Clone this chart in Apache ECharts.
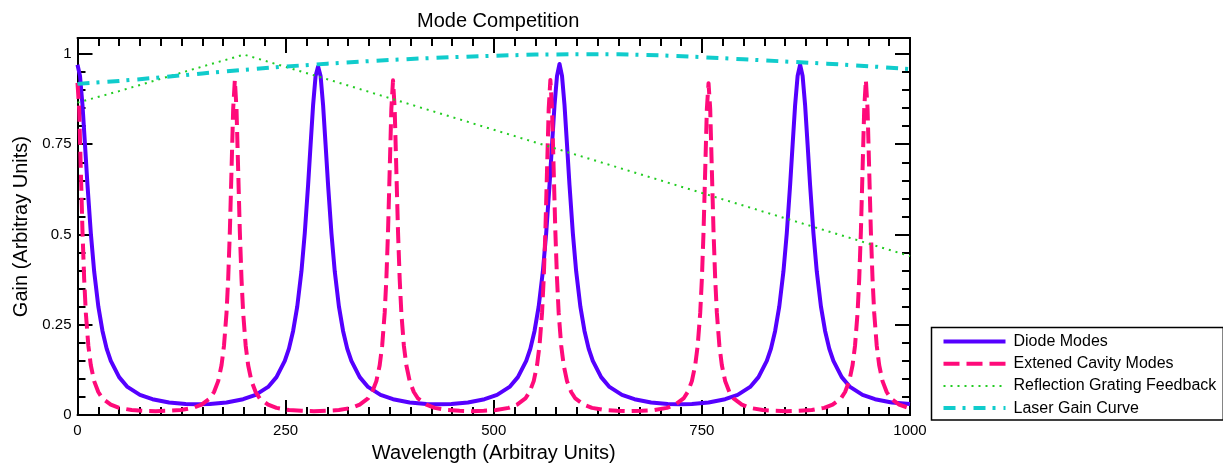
<!DOCTYPE html>
<html>
<head>
<meta charset="utf-8">
<script src="https://cdn.jsdelivr.net/npm/echarts@6/dist/echarts.min.js"></script>
<style>
  html, body { margin: 0; padding: 0; background: #fff; }
  #chart { width: 1223px; height: 468px; }
</style>
</head>
<body>
<div id="chart"></div>
<script>
// Axis ticks
const xTicks = [0, 250, 500, 750, 1000];
const yTicks = [0, 0.25, 0.5, 0.75, 1];
const yMinorTicks = [0.05, 0.1, 0.15, 0.2, 0.3, 0.35, 0.4, 0.45, 0.55, 0.6, 0.65, 0.7, 0.8, 0.85, 0.9, 0.95];

// [wavelength, gain] samples for each curve
const diodeModes = [
  [0,0.970],[3,0.939],[6,0.858],[9,0.749],[12,0.637],[16,0.504],[20,0.398],[25,0.301],[30,0.233],[35,0.184],[40,0.150],[50,0.105],[60,0.078],[75,0.056],[90,0.044],[110,0.035],[130,0.031],[144,0.030],
  [159,0.031],[179,0.035],[199,0.044],[214,0.056],[229,0.078],[239,0.105],[249,0.150],[254,0.184],[259,0.233],[264,0.301],[269,0.398],[273,0.504],[277,0.637],[280,0.749],[283,0.858],[286,0.939],[289,0.965],[292,0.939],[295,0.858],[298,0.749],[301,0.637],[305,0.504],[309,0.398],[314,0.301],[319,0.233],[324,0.184],[329,0.150],[339,0.105],[349,0.078],[364,0.056],[379,0.044],[399,0.035],[419,0.031],[434,0.030],
  [449,0.031],[469,0.035],[489,0.044],[504,0.056],[519,0.078],[529,0.105],[539,0.150],[544,0.184],[549,0.233],[554,0.301],[559,0.398],[563,0.504],[567,0.637],[570,0.749],[573,0.858],[576,0.939],[579,0.972],[582,0.939],[585,0.858],[588,0.749],[591,0.637],[595,0.504],[599,0.398],[604,0.301],[609,0.233],[614,0.184],[619,0.150],[629,0.105],[639,0.078],[654,0.056],[669,0.044],[689,0.035],[709,0.031],[724,0.030],
  [738,0.031],[758,0.035],[778,0.044],[793,0.056],[808,0.078],[818,0.105],[828,0.150],[833,0.184],[838,0.233],[843,0.301],[848,0.398],[852,0.504],[856,0.637],[859,0.749],[862,0.858],[865,0.939],[868,0.970],[871,0.939],[874,0.858],[877,0.749],[880,0.637],[884,0.504],[888,0.398],[893,0.301],[898,0.233],[903,0.184],[908,0.150],[918,0.105],[928,0.078],[943,0.056],[958,0.044],[978,0.035],[1000,0.031]
];

const cavityModes = [
  [0,0.920],[2,0.848],[4,0.678],[6,0.508],[8,0.377],[10,0.283],[13,0.193],[16,0.138],[20,0.094],[25,0.064],[30,0.046],[40,0.029],[50,0.020],[65,0.014],[80,0.012],[94,0.011],
  [109,0.012],[124,0.014],[139,0.020],[149,0.029],[159,0.046],[164,0.064],[169,0.094],[173,0.138],[176,0.193],[179,0.283],[181,0.377],[183,0.508],[185,0.678],[187,0.848],[189,0.928],[191,0.848],[193,0.678],[195,0.508],[197,0.377],[199,0.283],[202,0.193],[205,0.138],[209,0.094],[214,0.064],[219,0.046],[229,0.029],[239,0.020],[254,0.014],[269,0.012],[284,0.011],
  [299,0.012],[314,0.014],[329,0.020],[339,0.029],[349,0.046],[354,0.064],[359,0.094],[363,0.138],[366,0.193],[369,0.283],[371,0.377],[373,0.508],[375,0.678],[377,0.848],[379,0.927],[381,0.848],[383,0.678],[385,0.508],[387,0.377],[389,0.283],[392,0.193],[395,0.138],[399,0.094],[404,0.064],[409,0.046],[419,0.029],[429,0.020],[444,0.014],[459,0.012],[473,0.011],
  [488,0.012],[503,0.014],[518,0.020],[528,0.029],[538,0.046],[543,0.064],[548,0.094],[552,0.138],[555,0.193],[558,0.283],[560,0.377],[562,0.508],[564,0.678],[566,0.848],[568,0.928],[570,0.848],[572,0.678],[574,0.508],[576,0.377],[578,0.283],[581,0.193],[584,0.138],[588,0.094],[593,0.064],[598,0.046],[608,0.029],[618,0.020],[633,0.014],[648,0.012],[663,0.011],
  [678,0.012],[693,0.014],[708,0.020],[718,0.029],[728,0.046],[733,0.064],[738,0.094],[742,0.138],[745,0.193],[748,0.283],[750,0.377],[752,0.508],[754,0.678],[756,0.848],[758,0.919],[760,0.848],[762,0.678],[764,0.508],[766,0.377],[768,0.283],[771,0.193],[774,0.138],[778,0.094],[783,0.064],[788,0.046],[798,0.029],[808,0.020],[823,0.014],[838,0.012],[852,0.011],
  [867,0.012],[882,0.014],[897,0.020],[907,0.029],[917,0.046],[922,0.064],[927,0.094],[931,0.138],[934,0.193],[937,0.283],[939,0.377],[941,0.508],[943,0.678],[945,0.848],[947,0.928],[949,0.848],[951,0.678],[953,0.508],[955,0.377],[957,0.283],[960,0.193],[963,0.138],[967,0.094],[972,0.064],[977,0.046],[987,0.029],[997,0.021],[1000,0.019]
];

const gratingFeedback = [
  [0,0.865],[50,0.897],[100,0.931],[150,0.965],[200,0.998],[300,0.930],[400,0.860],[500,0.790],
  [600,0.720],[700,0.650],[800,0.580],[900,0.510],[1000,0.440]
];

const laserGain = [
  [0,0.917],[50,0.925],[100,0.935],[150,0.946],[200,0.956],[250,0.965],[300,0.973],[350,0.980],
  [400,0.986],[450,0.991],[500,0.995],[550,0.998],[600,0.999],[650,0.999],[700,0.996],[750,0.991],
  [800,0.985],[850,0.979],[900,0.973],[950,0.966],[1000,0.958]
];

const FONT = 'Liberation Sans, Arial, sans-serif';
const tickStyle = { color: '#000', width: 2 };
const frameLine = { show: true, onZero: false, lineStyle: { color: '#000', width: 2 } };

function xAxisAt(position, withLabels) {
  return {
    type: 'value', position, min: 0, max: 1000, interval: 250,
    axisLine: frameLine,
    axisTick: { show: true, inside: true, length: 15, lineStyle: tickStyle, customValues: xTicks },
    minorTick: { show: true, splitNumber: 10, length: 8, lineStyle: tickStyle },
    axisLabel: {
      show: withLabels, color: '#000', fontSize: 15, fontFamily: FONT, margin: 8,
      customValues: xTicks, formatter: v => String(v)
    },
    splitLine: { show: false }, minorSplitLine: { show: false },
    name: withLabels ? 'Wavelength (Arbitray Units)' : '',
    nameLocation: 'middle', nameGap: 27,
    nameTextStyle: { color: '#000', fontSize: 20, fontFamily: FONT }
  };
}

function yAxisAt(position, ticks, len, withLabels, withName) {
  return {
    type: 'value', position, min: 0, max: 1.044,
    axisLine: frameLine,
    axisTick: { show: true, inside: true, length: len, lineStyle: tickStyle, customValues: ticks },
    axisLabel: {
      show: withLabels, color: '#000', fontSize: 15, fontFamily: FONT, margin: 6,
      customValues: ticks, formatter: v => String(v)
    },
    splitLine: { show: false },
    name: withName ? 'Gain (Arbitray Units)' : '',
    nameLocation: 'middle', nameGap: 43,
    nameTextStyle: { color: '#000', fontSize: 20, fontFamily: FONT }
  };
}

function curve(name, data, color, width, dash) {
  return {
    name, type: 'line', data, xAxisIndex: 0, yAxisIndex: 0,
    symbol: 'none', showSymbol: false, smooth: false,
    itemStyle: { color },
    lineStyle: { color, width, type: dash, cap: 'butt', join: 'round' }
  };
}

const chart = echarts.init(document.getElementById('chart'), null, { renderer: 'canvas' });
chart.setOption({
  animation: false,
  backgroundColor: '#fff',
  textStyle: { fontFamily: FONT },
  title: {
    text: 'Mode Competition', left: 412, top: 6,
    textStyle: { color: '#000', fontSize: 20, fontWeight: 'normal', fontFamily: FONT }
  },
  grid: { left: 77.5, right: 313, top: 38, bottom: 51.3, containLabel: false },
  xAxis: [xAxisAt('bottom', true), xAxisAt('top', false)],
  yAxis: [
    yAxisAt('left', yTicks, 15, true, true),
    yAxisAt('left', yMinorTicks, 8, false, false),
    yAxisAt('right', yTicks, 15, false, false),
    yAxisAt('right', yMinorTicks, 8, false, false)
  ],
  legend: {
    orient: 'vertical', left: 931.5, top: 327.5,
    padding: [6, 7, 4, 10],
    itemWidth: 62, itemHeight: 16, itemGap: 6.2,
    backgroundColor: '#fff', borderColor: '#000', borderWidth: 1.5, borderRadius: 0,
    itemStyle: { opacity: 0 },
    lineStyle: { width: 'inherit' },
    textStyle: { color: '#000', fontSize: 16, fontFamily: FONT, padding: [0, 0, 0, 3] },
    data: ['Diode Modes', 'Extened Cavity Modes', 'Reflection Grating Feedback', 'Laser Gain Curve']
  },
  series: [
    curve('Diode Modes', diodeModes, '#5500ff', 4, 'solid'),
    curve('Extened Cavity Modes', cavityModes, '#ff0a7a', 4, [16, 7]),
    curve('Reflection Grating Feedback', gratingFeedback, '#22cc22', 2, [2, 5]),
    curve('Laser Gain Curve', laserGain, '#10cccc', 4, [12, 7, 3, 8])
  ]
});
</script>
</body>
</html>
